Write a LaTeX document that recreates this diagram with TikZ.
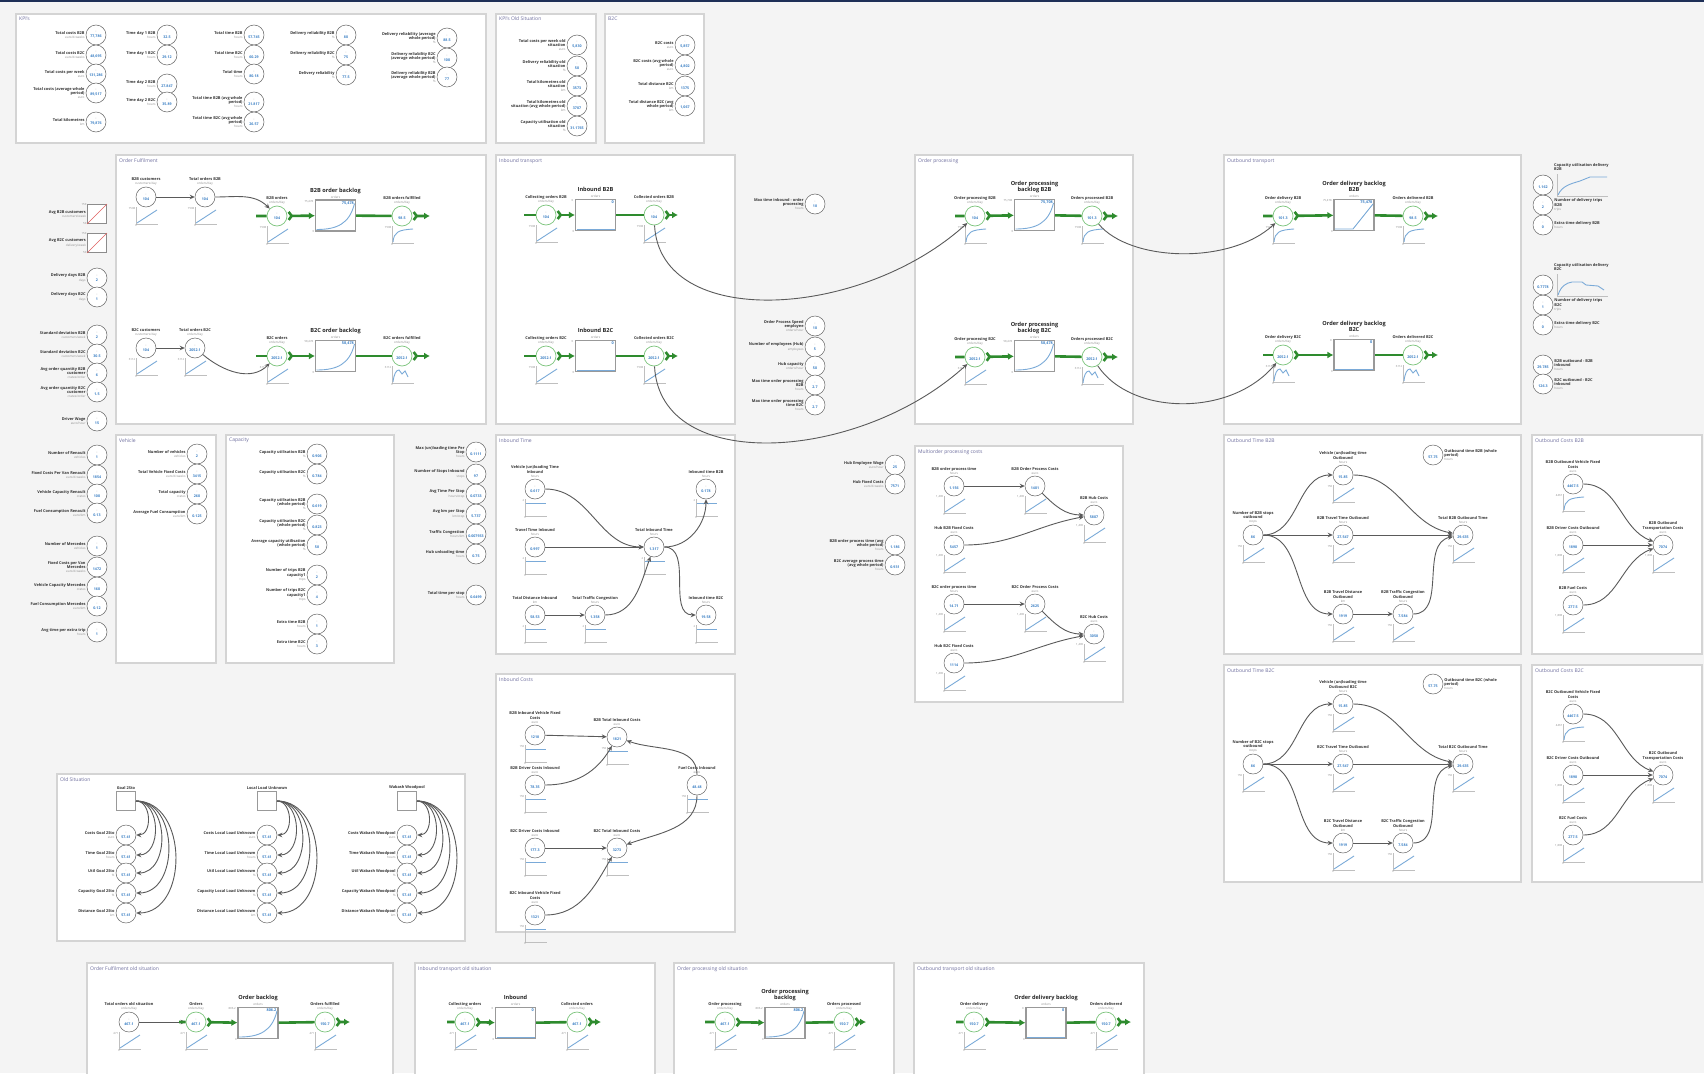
\documentclass[tikz,border=0pt]{standalone}
\usepackage{fontspec}
\setmainfont{Open Sans}
\usetikzlibrary{arrows.meta,positioning,calc}

\definecolor{bggray}{HTML}{F4F4F4}
\definecolor{panelline}{HTML}{D4D4D4}
\definecolor{navy}{HTML}{1E2F57}
\definecolor{flowgreen}{HTML}{2E8B2E}
\definecolor{valvegreen}{HTML}{7CC47C}
\definecolor{valblue}{HTML}{3A7FC4}
\definecolor{sparkblue}{HTML}{7AAAD8}
\definecolor{unitgray}{HTML}{8C8C8C}
\definecolor{titlecol}{HTML}{6E6E9E}
\definecolor{linkgray}{HTML}{5A5A5A}
\definecolor{sliderred}{HTML}{E06060}

% name + unit, value inside a circle
\newcommand{\nm}[2]{#1\\{\fontsize{3.1}{3.6}\selectfont\mdseries\color{unitgray}#2}}
\newcommand{\vv}[1]{{\color{black!45}-}\\[1pt]{\color{valblue}\bfseries #1}}
% mini graph under a node
\newcommand{\spark}[3]{%
  \draw[sparkaxis,shift={(#1.center)}] (-10,10) -- (-10,27) -- (12,27);
  \draw[sparkline,shift={(#1.center)}] #3;
  \node[sparktxt,anchor=east] (#1-max) at ([shift={(-10,11)}]#1.center) {#2};
  \node[sparktxt,anchor=north] (#1-min) at ([shift={(-10,27)}]#1.center) {0};
}
\newcommand{\slin}{(-9,26) -- (11,13)}
\newcommand{\ssat}{(-9,26) .. controls (-8,16) and (-4,14) .. (11,13)}
\newcommand{\sflat}{(-9,14) -- (11,14)}
\newcommand{\sbump}{(-9,26) .. controls (-8,18) and (-6,14) .. (-3,14) -- (0,18) -- (3,15) -- (6,21)}
% graph inside a stock
\newcommand{\stockin}[3]{%
  \node[stkval,anchor=north east] (#1-val) at ([shift={(-1.5,1.5)}]#1.north east) {#2};
  \node[sparktxt,anchor=east] (#1-max) at ([shift={(-1,2)}]#1.north west) {#2};
  \node[sparktxt,anchor=east] (#1-min) at (#1.south west) {0};
  \draw[sparkline,shift={(#1.center)}] #3;
}
\newcommand{\sexp}{(-19,14) .. controls (2,14) and (14,8) .. (19,-12)}
\newcommand{\sramp}{(-19,14) -- (-1,14) -- (19,-11)}
\newcommand{\sbase}{(-19,14.5) -- (19,14.5)}

\begin{document}
\begin{tikzpicture}[x=1pt,y=-1pt,
  panel/.style={draw=panelline,fill=white,line width=1.2pt},
  ptitle/.style={anchor=north west,font=\fontsize{5}{6}\selectfont,text=titlecol,inner sep=1pt},
  aux/.style={circle,draw=black!60,fill=white,line width=0.5pt,minimum size=20pt,inner sep=0pt,align=center,font=\fontsize{3.6}{4}\selectfont},
  valve/.style={aux,draw=valvegreen,line width=0.7pt},
  stock/.style={rectangle,draw=black!40,fill=white,line width=1.1pt,minimum width=40pt,minimum height=31pt,inner sep=0pt},
  slider/.style={rectangle,draw=black!45,fill=white,line width=0.8pt,minimum size=19pt,inner sep=0pt},
  oldsq/.style={rectangle,draw=black!40,fill=white,line width=1pt,minimum size=19pt,inner sep=0pt},
  lbl/.style={font=\fontsize{3.9}{4.4}\selectfont\bfseries,text=black!80,align=right,inner sep=1pt},
  lbt/.style={lbl,align=center},
  lbr/.style={lbl,align=left},
  stktitle/.style={font=\fontsize{5.6}{6.2}\selectfont\bfseries,text=black!85,align=center,inner sep=1pt},
  stkval/.style={font=\fontsize{3.8}{4}\selectfont\bfseries,text=valblue,inner sep=0.5pt},
  sparkaxis/.style={draw=black!25,line width=0.6pt},
  sparkline/.style={draw=sparkblue,line width=0.9pt},
  sparktxt/.style={font=\fontsize{2.8}{3}\selectfont,text=unitgray,inner sep=0.5pt},
  link/.style={draw=linkgray,line width=0.9pt,-{Stealth[length=5pt,width=4.5pt]}},
  flow/.style={draw=flowgreen,line width=2.6pt,{Straight Barb[reversed,length=3pt,width=8pt]}-{Latex[length=6pt,width=7pt]}}]

% Canvas
\useasboundingbox (0,0) rectangle (1704,1073);
\fill[bggray] (0,0) rectangle (1704,1073);
\fill[navy] (0,0) rectangle (1704,2.5);

% Panels
\foreach \xa/\ya/\xb/\yb/\ti [count=\n] in {
    16/14/486/143/{KPI's}, 496/14/596/143/{KPI's Old Situation}, 605/14/704/143/{B2C},
    116/155/486/424/{Order Fulfilment}, 496/155/735/424/{Inbound transport},
    915/155/1133/424/{Order processing}, 1224/155/1521/424/{Outbound transport},
    116/435/216/663/{Vehicle}, 226/435/394/663/{Capacity},
    496/435/735/654/{Inbound Time}, 915/446/1123/702/{Multiorder processing costs},
    1224/435/1521/654/{Outbound Time B2B}, 1532/435/1702/654/{Outbound Costs B2B},
    1224/665/1521/882/{Outbound Time B2C}, 1532/665/1702/882/{Outbound Costs B2C},
    496/674/735/932/{Inbound Costs}, 57/774/465/941/{Old Situation},
    87/963/393/1075/{Order Fulfilment old situation}, 415/963/655/1075/{Inbound transport old situation},
    674/963/894/1075/{Order processing old situation}, 914/963/1144/1075/{Outbound transport old situation}} {
  \draw[panel] (\xa,\ya) rectangle (\xb,\yb);
  \node[ptitle] (ptitle\n) at (\xa+2,\ya+2) {\ti};
}

% KPIs
\foreach \i/\x/\y/\tx/\un/\va in {
    1/96/35/{Total costs B2B}/{euro/4 weeks}/{77,786}, 2/96/55/{Total costs B2C}/{euro/4 weeks}/{48,695},
    3/96/74/{Total costs per week}/{euro}/{131,286}, 4/96/93/{Total costs (average whole\\period)}/{euro}/{89,517},
    5/96/122/{Total kilometres}/{km}/{79,876},
    6/167/35/{Time day 1 B2B}/{hours}/{32.5}, 7/167/55/{Time day 1 B2C}/{hours}/{29.12},
    8/167/84/{Time day 2 B2B}/{hours}/{27.847}, 9/167/102/{Time day 2 B2C}/{hours}/{35.89},
    10/254/35/{Total time B2B}/{hours}/{57.745}, 11/254/55/{Total time B2C}/{hours}/{60.29},
    12/254/74/{Total time}/{hours}/{80.18}, 13/254/102/{Total time B2B (avg whole\\period)}/{hours}/{21.817},
    14/254/122/{Total time B2C (avg whole\\period)}/{hours}/{26.57},
    15/346/35/{Delivery reliability B2B}/{\%}/{80}, 16/346/55/{Delivery reliability B2C}/{\%}/{75},
    17/346/75/{Delivery reliability}/{\%}/{77.5},
    18/447/38/{Delivery reliability (average\\whole period)}/{\%}/{88.5},
    19/447/58/{Delivery reliability B2C\\(average whole period)}/{\%}/{100},
    20/447/77/{Delivery reliability B2B\\(average whole period)}/{\%}/{77},
    21/577/45/{Total costs per week old\\situation}/{euro}/{5,830}, 22/577/66/{Delivery reliability old\\situation}/{\%}/{50},
    23/577/86/{Total kilometres old\\situation}/{km}/{3573}, 24/577/106/{Total kilometres old\\situation (avg whole period)}/{km}/{3707},
    25/577/126/{Capacity utilisation old\\situation}/{\%}/{31.1765},
    26/685/45/{B2C costs}/{euro}/{5,857}, 27/685/65/{B2C costs (avg whole\\period)}/{euro}/{4,802},
    28/685/86/{Total distance B2C}/{km}/{1375}, 29/685/106/{Total distance B2C (avg\\whole period)}/{km}/{1,067}}
  \node[aux,label={[lbl]left:{\nm{\tx}{\un}}}] (kpi\i) at (\x,\y) {\vv{\va}};

% Left column inputs
\node[slider,label={[lbl]left:{\nm{Avg B2B customers}{customers/week}}}] (avgb2b) at (97,214) {};
\node[slider,label={[lbl]left:{\nm{Avg B2C customers}{delivery/week}}}] (avgb2c) at (97,243) {};
\foreach \s in {avgb2b,avgb2c} {
  \draw[sliderred,line width=0.7pt] (\s.south west) -- (\s.north east);
  \node[sparktxt,anchor=east] (\s-max) at (\s.north west) {150};
  \node[sparktxt,anchor=east] (\s-min) at (\s.south west) {50};
}
\foreach \i/\y/\tx/\un/\va in {
    1/278/{Delivery days B2B}/{days}/{2}, 2/297/{Delivery days B2C}/{days}/{1},
    3/335/{Standard deviation B2B}/{customers/week}/{2}, 4/354/{Standard deviation B2C}/{customers/week}/{30.5},
    5/373/{Avg order quantity B2B\\customer}/{crates/order}/{6}, 6/392/{Avg order quantity B2C\\customer}/{crates/order}/{1.5},
    7/421/{Driver Wage}/{euro/hour}/{15},
    8/455/{Number of Renault}/{vehicles}/{1}, 9/475/{Fixed Costs Per Van Renault}/{euro/4 weeks}/{1854},
    10/494/{Vehicle Capacity Renault}/{crates}/{100}, 11/513/{Fuel Consumption Renault}/{euro/km}/{0.13},
    12/546/{Number of Mercedes}/{vehicles}/{1}, 13/567/{Fixed Costs per Van\\Mercedes}/{euro/4 weeks}/{1472},
    14/587/{Vehicle Capacity Mercedes}/{crates}/{160}, 15/606/{Fuel Consumption Mercedes}/{euro/km}/{0.12},
    16/632/{Avg time per extra trip}/{hours}/{1}}
  \node[aux,label={[lbl]left:{\nm{\tx}{\un}}}] (inp\i) at (97,\y) {\vv{\va}};

% Vehicle, Capacity and loose inputs
\foreach \i/\x/\y/\tx/\un/\va in {
    1/197/454/{Number of vehicles}/{vehicles}/{2}, 2/197/474/{Total Vehicle Fixed Costs}/{euro/4 weeks}/{3415},
    3/197/494/{Total capacity}/{crates}/{260}, 4/197/514/{Average Fuel Consumption}/{euro/km}/{0.125},
    5/317/454/{Capacity utilisation B2B}/{\%}/{0.906}, 6/317/474/{Capacity utilisation B2C}/{\%}/{0.784},
    7/317/504/{Capacity utilisation B2B\\(whole period)}/{\%}/{0.619}, 8/317/525/{Capacity utilisation B2C\\(whole period)}/{\%}/{0.823},
    9/317/545/{Average capacity utilisation\\(whole period)}/{\%}/{58},
    10/317/575/{Number of trips B2B\\capacity1}/{trips}/{2}, 11/317/595/{Number of trips B2C\\capacity1}/{trips}/{4},
    12/317/624/{Extra time B2B}/{hours}/{1}, 13/317/644/{Extra time B2C}/{hours}/{3},
    14/476/452/{Max (un)loading time Per\\Stop}/{hours}/{0.1111}, 15/476/474/{Number of Stops Inbound}/{stops}/{97},
    16/476/494/{Avg Time Per Stop}/{hours/stop}/{0.0733}, 17/476/514/{Avg km per Stop}/{km/stop}/{5.737},
    18/476/534/{Traffic Congestion}/{hours/km}/{0.007933}, 19/476/554/{Hub unloading time}/{hours}/{0.75},
    20/476/595/{Total time per stop}/{hours}/{0.6499},
    21/815/204/{Max time inbound - order\\processing}/{hours}/{18},
    22/815/326/{Order Process Speed\\employee}/{orders/hour}/{10}, 23/815/347/{Number of employees (Hub)}/{employees}/{5},
    24/815/366/{Hub capacity}/{orders/hour}/{50}, 25/815/385/{Max time order processing\\B2B}/{hours}/{2.7},
    26/815/405/{Max time order processing\\time B2C}/{hours}/{2.7},
    27/895/465/{Hub Employee Wage}/{euro/hour}/{25}, 28/895/484/{Hub Fixed Costs}/{euro/4 weeks}/{7571},
    29/895/545/{B2B order process time (avg\\whole period)}/{hours}/{1.186},
    30/895/565/{B2C average process time\\(avg whole period)}/{hours}/{0.931}}
  \node[aux,label={[lbl]left:{\nm{\tx}{\un}}}] (par\i) at (\x,\y) {\vv{\va}};

% Right column
\foreach \i/\y/\tx/\un/\va in {
    2/205/{Number of delivery trips\\B2B}/{trips}/{2}, 3/225/{Extra time delivery B2B}/{hours}/{0},
    5/305/{Number of delivery trips\\B2C}/{trips}/{1}, 6/325/{Extra time delivery B2C}/{hours}/{0},
    7/365/{B2B outbound - B2B\\inbound}/{hours}/{29.785}, 8/384/{B2C outbound - B2C\\inbound}/{hours}/{126.3}}
  \node[aux,label={[lbr]right:{\nm{\tx}{\un}}}] (rc\i) at (1543,\y) {\vv{\va}};
\node[aux] (rc1) at (1543,185) {\vv{1.162}};
\node[aux] (rc4) at (1543,285) {\vv{0.7778}};
\node[lbr,anchor=south west] (rc1-title) at (1553,172) {Capacity utilisation delivery\\B2B};
\node[lbr,anchor=south west] (rc4-title) at (1553,272) {Capacity utilisation delivery\\B2C};
\draw[sparkaxis] (1557,174) -- (1557,196) -- (1608,196);
\draw[sparkline] (1558,195) .. controls (1562,186) and (1570,184) .. (1580,181) -- (1590,177) -- (1607,177);
\draw[sparkaxis] (1557,274) -- (1557,296) -- (1608,296);
\draw[sparkline] (1558,295) .. controls (1561,286) and (1566,283) .. (1572,282) -- (1582,282) -- (1586,285) -- (1598,286) -- (1604,290);

% Order Fulfilment
\node[aux,label={[lbt]above:{\nm{B2B customers}{customers/day}}}] (b2bcust) at (146,197) {\vv{104}};
\node[aux,label={[lbt]above:{\nm{Total orders B2B}{orders/day}}}] (totb2b) at (205,197) {\vv{104}};
\node[valve,label={[lbt]above:{\nm{B2B orders}{orders/day}}}] (b2bord) at (277,216) {\vv{104}};
\node[stock,label={[stktitle]above:{\nm{B2B order backlog}{orders}}}] (b2bback) at (335.5,215.5) {};
\node[valve,label={[lbt]above:{\nm{B2B orders fulfilled}{orders/day}}}] (b2bful) at (402,216) {\vv{98.5}};
\coordinate (b2bsrc) at (256,216);
\coordinate (b2bsink) at (430,216);
\node[aux,label={[lbt]above:{\nm{B2C customers}{customers/day}}}] (b2ccust) at (146,348) {\vv{104}};
\node[aux,label={[lbt]above:{\nm{Total orders B2C}{orders/day}}}] (totb2c) at (195,348) {\vv{2052.1}};
\node[valve,label={[lbt]above:{\nm{B2C orders}{orders/day}}}] (b2cord) at (277,356) {\vv{2052.1}};
\node[stock,label={[stktitle]above:{\nm{B2C order backlog}{orders}}}] (b2cback) at (335.5,356) {};
\node[valve,label={[lbt]above:{\nm{B2C orders fulfilled}{orders/day}}}] (b2cful) at (402,356) {\vv{2052.1}};
\coordinate (b2csrc) at (256,356);
\coordinate (b2csink) at (430,356);
\draw[flow] (b2bsrc) -- (b2bord) -- (b2bback);
\draw[flow] (b2bback) -- (b2bful) -- (b2bsink);
\draw[flow] (b2csrc) -- (b2cord) -- (b2cback);
\draw[flow] (b2cback) -- (b2cful) -- (b2csink);
\draw[link] (b2bcust) -- (totb2b);
\draw[link] (totb2b) to[out=0,in=135] (b2bord);
\draw[link] (b2ccust) -- (totb2c);
\draw[link] (totb2c) to[out=-40,in=-135] (b2cord);
\stockin{b2bback}{75,478}{\sexp}
\stockin{b2cback}{58,478}{\sexp}
\foreach \n in {b2bcust,totb2b,b2bord} \spark{\n}{7598}{\slin};
\foreach \n in {b2ccust,totb2c,b2cord} \spark{\n}{6112}{\slin};
\spark{b2bful}{7598}{\ssat}
\spark{b2cful}{6112}{\sbump}

% Inbound transport
\node[valve,label={[lbt]above:{\nm{Collecting orders B2B}{orders/day}}}] (colb2b) at (546,215) {\vv{104}};
\node[stock,label={[stktitle]above:{\nm{Inbound B2B}{orders}}}] (inb2b) at (595.5,215) {};
\node[valve,label={[lbt]above:{\nm{Collected orders B2B}{orders/day}}}] (cedb2b) at (654,215) {\vv{104}};
\node[valve,label={[lbt]above:{\nm{Collecting orders B2C}{orders/day}}}] (colb2c) at (546,356) {\vv{2052.1}};
\node[stock,label={[stktitle]above:{\nm{Inbound B2C}{orders}}}] (inb2c) at (595.5,356) {};
\node[valve,label={[lbt]above:{\nm{Collected orders B2C}{orders/day}}}] (cedb2c) at (654,356) {\vv{2052.1}};
\coordinate (colb2bsrc) at (524,215);
\coordinate (cedb2bsink) at (678,215);
\coordinate (colb2csrc) at (524,356);
\coordinate (cedb2csink) at (678,356);
\draw[flow] (colb2bsrc) -- (colb2b) -- (inb2b);
\draw[flow] (inb2b) -- (cedb2b) -- (cedb2bsink);
\draw[flow] (colb2csrc) -- (colb2c) -- (inb2c);
\draw[flow] (inb2c) -- (cedb2c) -- (cedb2csink);
\stockin{inb2b}{0}{\sbase}
\stockin{inb2c}{0}{\sbase}
\foreach \n in {colb2b,cedb2b,colb2c,cedb2c} \spark{\n}{7598}{\slin};

% Order processing
\node[valve,label={[lbt]above:{\nm{Order processing B2B}{orders/day}}}] (opb2b) at (975,216) {\vv{104}};
\node[stock,label={[stktitle]above:{\nm{Order processing\\backlog B2B}{orders}}}] (opbackb2b) at (1034.5,215) {};
\node[valve,label={[lbt]above:{\nm{Orders processed B2B}{orders/day}}}] (procb2b) at (1092,216) {\vv{101.3}};
\node[valve,label={[lbt]above:{\nm{Order processing B2C}{orders/day}}}] (opb2c) at (975,357) {\vv{2052.1}};
\node[stock,label={[stktitle]above:{\nm{Order processing\\backlog B2C}{orders}}}] (opbackb2c) at (1034.5,356) {};
\node[valve,label={[lbt]above:{\nm{Orders processed B2C}{orders/day}}}] (procb2c) at (1092,357) {\vv{2052.1}};
\coordinate (opb2bsrc) at (955,216);
\coordinate (procb2bsink) at (1118,216);
\coordinate (opb2csrc) at (955,357);
\coordinate (procb2csink) at (1118,357);
\draw[flow] (opb2bsrc) -- (opb2b) -- (opbackb2b);
\draw[flow] (opbackb2b) -- (procb2b) -- (procb2bsink);
\draw[flow] (opb2csrc) -- (opb2c) -- (opbackb2c);
\draw[flow] (opbackb2c) -- (procb2c) -- (procb2csink);
\stockin{opbackb2b}{75,708}{\sexp}
\stockin{opbackb2c}{58,478}{\sexp}
\spark{opb2b}{7598}{\ssat}
\spark{procb2b}{7598}{\ssat}
\spark{opb2c}{6112}{\slin}
\spark{procb2c}{6112}{\sbump}

% Outbound transport
\node[valve,label={[lbt]above:{\nm{Order delivery B2B}{orders/day}}}] (odb2b) at (1283,216) {\vv{101.3}};
\node[stock,label={[stktitle]above:{\nm{Order delivery backlog\\B2B}{orders}}}] (odbackb2b) at (1354,215) {};
\node[valve,label={[lbt]above:{\nm{Orders delivered B2B}{orders/day}}}] (delb2b) at (1413,216) {\vv{98.5}};
\node[valve,label={[lbt]above:{\nm{Order delivery B2C}{orders/day}}}] (odb2c) at (1283,355) {\vv{2052.1}};
\node[stock,label={[stktitle]above:{\nm{Order delivery backlog\\B2C}{orders}}}] (odbackb2c) at (1354,355) {};
\node[valve,label={[lbt]above:{\nm{Orders delivered B2C}{orders/day}}}] (delb2c) at (1413,355) {\vv{2052.1}};
\coordinate (odb2bsrc) at (1263,216);
\coordinate (delb2bsink) at (1438,216);
\coordinate (odb2csrc) at (1263,355);
\coordinate (delb2csink) at (1438,355);
\draw[flow] (odb2bsrc) -- (odb2b) -- (odbackb2b);
\draw[flow] (odbackb2b) -- (delb2b) -- (delb2bsink);
\draw[flow] (odb2csrc) -- (odb2c) -- (odbackb2c);
\draw[flow] (odbackb2c) -- (delb2c) -- (delb2csink);
\stockin{odbackb2b}{75,478}{\sramp}
\stockin{odbackb2c}{0}{\sbase}
\foreach \n in {odb2b,delb2b} \spark{\n}{7598}{\ssat};
\foreach \n in {odb2c,delb2c} \spark{\n}{6112}{\sbump};

% Links between the transport blocks
\draw[link] (cedb2b) .. controls (660,330) and (860,320) .. (opb2b);
\draw[link] (cedb2c) .. controls (660,475) and (860,462) .. (opb2c);
\draw[link] (procb2b) .. controls (1130,262) and (1230,265) .. (odb2b);
\draw[link] (procb2c) .. controls (1130,415) and (1230,418) .. (odb2c);

% Inbound Time
\foreach \i/\x/\y/\tx/\un/\va in {
    1/535/489/{Vehicle (un)loading Time\\Inbound}/{hours}/{0.617}, 2/535/547/{Travel Time Inbound}/{hours}/{0.997},
    3/535/615/{Total Distance Inbound}/{km}/{58.53}, 4/595/615/{Total Traffic Congestion}/{hours}/{1.358},
    5/654/547/{Total Inbound Time}/{hours}/{1.317}, 6/706/489/{Inbound time B2B}/{hours}/{0.178},
    7/706/615/{Inbound time B2C}/{hours}/{19.58}}
  \node[aux,label={[lbt]above:{\nm{\tx}{\un}}}] (it\i) at (\x,\y) {\vv{\va}};
\foreach \i in {1,...,7} \spark{it\i}{2}{\sflat};
\draw[link] (it1) to[out=0,in=180] (it5);
\draw[link] (it2) -- (it5);
\draw[link] (it3) -- (it4);
\draw[link] (it4) to[out=0,in=-110] (it5);
\draw[link] (it5) to[out=0,in=-90] (it6);
\draw[link] (it5) to[out=0,in=180] (it7);

% Multiorder processing costs
\foreach \i/\x/\y/\tx/\un/\va in {
    1/954/486/{B2B order process time}/{hours}/{1.156}, 2/1035/486/{B2B Order Process Costs}/{euro}/{1401},
    3/1094/515/{B2B Hub Costs}/{euro}/{5807}, 4/954/545/{Hub B2B Fixed Costs}/{euro}/{5457},
    5/954/604/{B2C order process time}/{hours}/{14.71}, 6/1035/604/{B2C Order Process Costs}/{euro}/{2625},
    7/1094/634/{B2C Hub Costs}/{euro}/{3058}, 8/954/663/{Hub B2C Fixed Costs}/{euro}/{1114}}
  \node[aux,label={[lbt]above:{\nm{\tx}{\un}}}] (mo\i) at (\x,\y) {\vv{\va}};
\foreach \i in {1,...,8} \spark{mo\i}{1,400}{\slin};
\draw[link] (mo1) -- (mo2);
\draw[link] (mo2) to[out=-45,in=180] (mo3);
\draw[link] (mo4) to[out=0,in=190] (mo3);
\draw[link] (mo5) -- (mo6);
\draw[link] (mo6) to[out=-45,in=180] (mo7);
\draw[link] (mo8) to[out=0,in=190] (mo7);

% Outbound Time B2B / B2C
\foreach \p/\y/\q/\w in {ob/0/B2B/{},ot/229/B2C/{ B2C}} {
  \node[aux,label={[lbt]above:{\nm{Number of \q{} stops\\outbound}{stops}}}] (\p1) at (1253,535+\y) {\vv{86}};
  \node[aux,label={[lbt]above:{\nm{Vehicle (un)loading time\\Outbound\w}{hours}}}] (\p2) at (1343,475+\y) {\vv{15.85}};
  \node[aux,label={[lbt]above:{\nm{\q{} Travel Time Outbound}{hours}}}] (\p3) at (1343,535+\y) {\vv{27.547}};
  \node[aux,label={[lbt]above:{\nm{\q{} Travel Distance\\Outbound}{km}}}] (\p4) at (1343,614+\y) {\vv{1919}};
  \node[aux,label={[lbt]above:{\nm{\q{} Traffic Congestion\\Outbound}{hours}}}] (\p5) at (1403,614+\y) {\vv{7.584}};
  \node[aux,label={[lbt]above:{\nm{Total \q{} Outbound Time}{hours}}}] (\p6) at (1463,535+\y) {\vv{29.635}};
  \node[aux,label={[lbr]right:{\nm{Outbound time \q{} (whole\\period)}{hours}}}] (\p7) at (1433,455+\y) {\vv{57.75}};
  \foreach \i in {1,...,6} \spark{\p\i}{150}{\slin};
  \draw[link] (\p1) to[out=0,in=180] (\p2);
  \draw[link] (\p1) -- (\p3);
  \draw[link] (\p1) to[out=0,in=180] (\p4);
  \draw[link] (\p2) to[out=0,in=170] (\p6);
  \draw[link] (\p3) -- (\p6);
  \draw[link] (\p4) -- (\p5);
  \draw[link] (\p5) to[out=0,in=190] (\p6);
}

% Outbound Costs B2B / B2C
\foreach \p/\y/\q in {oc/0/B2B,od/230/B2C} {
  \node[aux,label={[lbt]above:{\nm{\q{} Outbound Vehicle Fixed\\Costs}{euro}}}] (\p1) at (1573,484+\y) {\vv{4467.5}};
  \node[aux,label={[lbt]above:{\nm{\q{} Driver Costs Outbound}{euro}}}] (\p2) at (1573,545+\y) {\vv{1898}};
  \node[aux,label={[lbt]above:{\nm{\q{} Fuel Costs}{euro}}}] (\p3) at (1573,605+\y) {\vv{277.5}};
  \node[aux,label={[lbt]above:{\nm{\q{} Outbound\\Transportation Costs}{euro}}}] (\p4) at (1663,545+\y) {\vv{7074}};
  \spark{\p1}{4467}{\ssat}
  \foreach \i in {2,3,4} \spark{\p\i}{1,898}{\slin};
  \draw[link] (\p1) to[out=0,in=160] (\p4);
  \draw[link] (\p2) -- (\p4);
  \draw[link] (\p3) to[out=0,in=200] (\p4);
}

% Inbound Costs
\foreach \i/\y/\tx/\va in {
    1/735/{B2B Inbound Vehicle Fixed\\Costs}/{1218}, 3/785/{B2B Driver Costs Inbound}/{78.35},
    5/848/{B2C Driver Costs Inbound}/{177.3}, 7/915/{B2C Inbound Vehicle Fixed\\Costs}/{1321}}
  \node[aux,label={[lbt]above:{\nm{\tx}{euro}}}] (ic\i) at (535,\y) {\vv{\va}};
\node[aux,label={[lbt]above:{\nm{B2B Total Inbound Costs}{euro}}}] (ic2) at (617,737) {\vv{1821}};
\node[aux,label={[lbt]above:{\nm{Fuel Costs Inbound}{euro}}}] (ic4) at (697,785) {\vv{48.48}};
\node[aux,label={[lbt]above:{\nm{B2C Total Inbound Costs}{euro}}}] (ic6) at (617,848) {\vv{3273}};
\foreach \i in {1,...,7} \spark{ic\i}{150}{\sflat};
\draw[link] (ic1) -- (ic2);
\draw[link] (ic3) to[out=0,in=-120] (ic2);
\draw[link] (ic4) to[out=90,in=-20] (ic2);
\draw[link] (ic4) to[out=-90,in=20] (ic6);
\draw[link] (ic5) -- (ic6);
\draw[link] (ic7) to[out=0,in=-120] (ic6);

% Old Situation
\foreach \g/\gx/\gt in {1/126/{Goal 2Sto},2/267/{Local Load Unknown},3/407/{Wabash Woodpool}} {
  \node[oldsq,label={[lbt]above:{\gt}}] (sq\g) at (\gx,801) {};
  \foreach \k/\y/\tx/\un in {1/835/{Costs \gt}/{euro},2/855/{Time \gt}/{hours},3/873/{Util \gt}/{\%},
      4/893/{Capacity \gt}/{\%},5/913/{Distance \gt}/{km}} {
    \node[aux,label={[lbl]left:{\nm{\tx}{\un}}}] (g\g c\k) at (\gx,\y) {\vv{57.41}};
    \draw[link] (sq\g.east) to[out=0,in=0,looseness=1.2] (g\g c\k.east);
  }
}

% Old situation flows
\node[aux,label={[lbt]above:{\nm{Total orders old situation}{orders/day}}}] (oldtot) at (129,1022) {\vv{467.1}};
\node[valve,label={[lbt]above:{\nm{Orders}{orders/day}}}] (oldord) at (196,1022) {\vv{467.1}};
\node[stock,label={[stktitle]above:{\nm{Order backlog}{orders}}}] (oldback) at (258,1023) {};
\node[valve,label={[lbt]above:{\nm{Orders fulfilled}{orders/day}}}] (oldful) at (325,1022) {\vv{150.7}};
\node[valve,label={[lbt]above:{\nm{Collecting orders}{orders/day}}}] (oldcol) at (465,1022) {\vv{467.1}};
\node[stock,label={[stktitle]above:{\nm{Inbound}{orders}}}] (oldin) at (515.5,1023) {};
\node[valve,label={[lbt]above:{\nm{Collected orders}{orders/day}}}] (oldced) at (577,1022) {\vv{467.1}};
\node[valve,label={[lbt]above:{\nm{Order processing}{orders/day}}}] (oldop) at (725,1022) {\vv{467.1}};
\node[stock,label={[stktitle]above:{\nm{Order processing\\backlog}{orders}}}] (oldopback) at (785,1023) {};
\node[valve,label={[lbt]above:{\nm{Orders processed}{orders/day}}}] (oldproc) at (844,1022) {\vv{150.7}};
\node[valve,label={[lbt]above:{\nm{Order delivery}{orders/day}}}] (oldod) at (974,1022) {\vv{150.7}};
\node[stock,label={[stktitle]above:{\nm{Order delivery backlog}{orders}}}] (oldodback) at (1046,1023) {};
\node[valve,label={[lbt]above:{\nm{Orders delivered}{orders/day}}}] (olddel) at (1106,1022) {\vv{150.7}};
\coordinate (oldordsrc) at (179,1022);
\coordinate (oldfulsink) at (350,1022);
\coordinate (oldcolsrc) at (447,1022);
\coordinate (oldcedsink) at (601,1022);
\coordinate (oldopsrc) at (705,1022);
\coordinate (oldprocsink) at (866,1022);
\coordinate (oldodsrc) at (956,1022);
\coordinate (olddelsink) at (1131,1022);
\draw[link] (oldtot) -- (oldord);
\draw[flow] (oldordsrc) -- (oldord) -- (oldback);
\draw[flow] (oldback) -- (oldful) -- (oldfulsink);
\draw[flow] (oldcolsrc) -- (oldcol) -- (oldin);
\draw[flow] (oldin) -- (oldced) -- (oldcedsink);
\draw[flow] (oldopsrc) -- (oldop) -- (oldopback);
\draw[flow] (oldopback) -- (oldproc) -- (oldprocsink);
\draw[flow] (oldodsrc) -- (oldod) -- (oldodback);
\draw[flow] (oldodback) -- (olddel) -- (olddelsink);
\stockin{oldback}{806.2}{\sexp}
\stockin{oldin}{0}{\sbase}
\stockin{oldopback}{806.2}{\sexp}
\stockin{oldodback}{0}{\sbase}
\foreach \n in {oldtot,oldord,oldful,oldcol,oldced,oldop,oldproc,oldod,olddel} \spark{\n}{471}{\slin};

\end{tikzpicture}
\end{document}
